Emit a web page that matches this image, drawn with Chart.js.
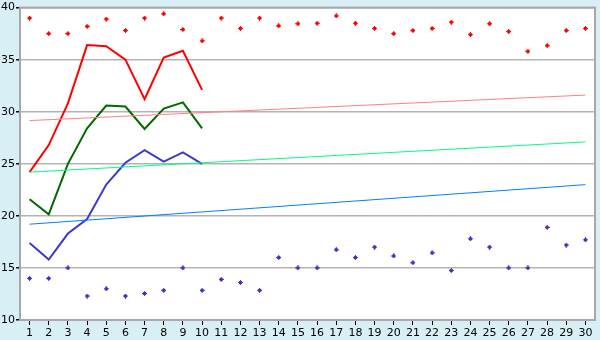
<!DOCTYPE html>
<html>
<head>
<meta charset="utf-8">
<script src="https://cdn.jsdelivr.net/npm/chart.js@4"></script>
<style>
  html, body { margin: 0; padding: 0; background: #d9eff6; }
  #wrap { width: 600px; height: 340px; }
</style>
</head>
<body>
<div id="wrap"><canvas id="chart" width="600" height="340"></canvas></div>
<script>
const days = ['1', '2', '3', '4', '5', '6', '7', '8', '9', '10', '11', '12', '13', '14', '15',
  '16', '17', '18', '19', '20', '21', '22', '23', '24', '25', '26', '27', '28', '29', '30']

const highPoints = [39.0, 37.5, 37.5, 38.2, 38.9, 37.8, 39.0, 39.4, 37.9, 36.8,
  39.0, 38.0, 39.0, 38.25, 38.45, 38.5, 39.2, 38.5, 38.0, 37.5,
  37.8, 38.0, 38.6, 37.4, 38.45, 37.7, 35.8, 36.35, 37.8, 38.0]
const lowPoints = [14.0, 14.0, 15.0, 12.3, 13.0, 12.3, 12.55, 12.85, 15.0, 12.85,
  13.9, 13.6, 12.85, 16.0, 15.0, 15.0, 16.75, 16.0, 17.0, 16.15,
  15.5, 16.45, 14.75, 17.8, 17.0, 15.0, 15.0, 18.9, 17.2, 17.7]

const redLine = [24.2, 26.8, 30.8, 36.4, 36.3, 35.0, 31.2, 35.2, 35.85, 32.1]
const greenLine = [21.6, 20.15, 25.0, 28.4, 30.6, 30.5, 28.35, 30.3, 30.9, 28.4]
const blueLine = [17.4, 15.8, 18.3, 19.7, 23.0, 25.1, 26.3, 25.2, 26.1, 25.0]

// trend lines: first and last value only, the gap is spanned
const redTrend = [29.15, 31.6]
const greenTrend = [24.2, 27.1]
const blueTrend = [19.2, 23.0]

const endsOnly = (pair) => days.map((d, i) => i === 0 ? pair[0] : i === days.length - 1 ? pair[1] : null)

// small plus-shaped marker
const makeMarker = (color) => {
  const c = document.createElement('canvas')
  c.width = 5
  c.height = 5
  const g = c.getContext('2d')
  g.fillStyle = color
  g.fillRect(2, 0, 1, 5)
  g.fillRect(0, 2, 5, 1)
  g.fillRect(1, 1, 3, 3)
  return c
}

const plotBg = {
  id: 'plotBg',
  beforeDraw (chart) {
    const { ctx, chartArea: a } = chart
    ctx.save()
    ctx.fillStyle = '#d9eff6'
    ctx.fillRect(0, 0, chart.width, chart.height)
    ctx.fillStyle = '#ffffff'
    ctx.fillRect(a.left, a.top, a.right - a.left, a.bottom - a.top)
    ctx.restore()
  },
  afterDraw (chart) {
    const { ctx, chartArea: a } = chart
    ctx.save()
    ctx.strokeStyle = '#a8a8a8'
    ctx.lineWidth = 2
    ctx.strokeRect(a.left, a.top, a.right - a.left, a.bottom - a.top)
    ctx.restore()
  }
}

const lineSet = (data, color) => ({
  data,
  borderColor: color,
  backgroundColor: color,
  borderWidth: 2,
  pointRadius: 0,
  tension: 0,
  fill: false
})

const trendSet = (data, color) => ({
  data: endsOnly(data),
  borderColor: color,
  backgroundColor: color,
  borderWidth: 1,
  pointRadius: 0,
  spanGaps: true,
  fill: false
})

const pointSet = (data, color) => ({
  data,
  showLine: false,
  borderColor: color,
  backgroundColor: color,
  pointStyle: makeMarker(color),
  pointRadius: 3,
  fill: false
})

const canvas = document.querySelector('#chart')
new Chart(canvas, {
  type: 'line',
  data: {
    labels: days,
    datasets: [
      trendSet(redTrend, '#ff8080'),
      trendSet(greenTrend, '#00ff80'),
      trendSet(blueTrend, '#0080ff'),
      lineSet(redLine, '#ff0000'),
      lineSet(greenLine, '#006a00'),
      lineSet(blueLine, '#3c3cc8'),
      pointSet(highPoints, '#ff0000'),
      pointSet(lowPoints, '#3535c8')
    ]
  },
  options: {
    responsive: false,
    animation: false,
    layout: { padding: { top: 5, right: 5, left: 0, bottom: 0 } },
    plugins: {
      legend: { display: false },
      tooltip: { enabled: false }
    },
    scales: {
      x: {
        offset: true,
        grid: { color: 'rgba(0,0,0,0)', tickColor: '#000000', tickLength: 5, drawOnChartArea: false },
        border: { display: false },
        ticks: {
          color: '#000000',
          padding: 2,
          maxRotation: 0,
          autoSkip: false,
          font: { family: 'DejaVu Sans', size: 11 }
        },
        afterFit (scale) { scale.height = 20 }
      },
      y: {
        min: 10,
        max: 40,
        grid: { color: '#b4b4b4', tickColor: '#000000', tickLength: 4, lineWidth: 1.5 },
        border: { display: false },
        ticks: {
          stepSize: 5,
          color: '#000000',
          padding: 1,
          font: { family: 'DejaVu Sans', size: 11 }
        },
        afterFit (scale) { scale.width = 20 }
      }
    }
  },
  plugins: [plotBg]
})
</script>
</body>
</html>
